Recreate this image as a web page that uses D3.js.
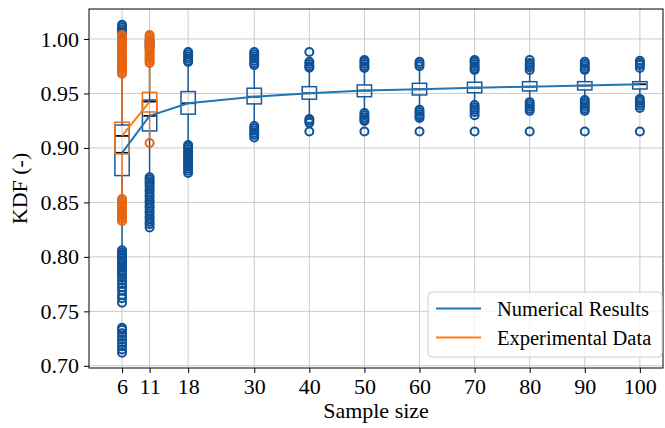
<!DOCTYPE html>
<html>
<head>
<meta charset="utf-8">
<script src="https://cdn.jsdelivr.net/npm/d3@7"></script>
<style>
  body { margin: 0; background: #fff; }
  svg text { font-family: "Liberation Serif", "Times New Roman", serif; fill: #000; }
</style>
</head>
<body>
<div id="chart"></div>
<script>
// sample sizes on the x axis
const sampleSizes = [6, 11, 18, 30, 40, 50, 60, 70, 80, 90, 100];
const yTicks = [0.70, 0.75, 0.80, 0.85, 0.90, 0.95, 1.00];

// Numerical results (box statistics per sample size)
const numMedian = [0.8955, 0.9294, 0.9410, 0.9470, 0.9502, 0.9526, 0.9538, 0.9553, 0.9562, 0.9572, 0.9584];
const numQ1 = [0.8746, 0.9156, 0.9310, 0.9404, 0.9447, 0.9470, 0.9486, 0.9507, 0.9523, 0.9532, 0.9541];
const numQ3 = [0.9210, 0.9440, 0.9517, 0.9548, 0.9562, 0.9578, 0.9593, 0.9603, 0.9608, 0.9608, 0.9608];
const numWhiskLo = [0.807, 0.875, 0.905, 0.922, 0.928, 0.933, 0.936, 0.941, 0.943, 0.945, 0.946];
const numWhiskHi = [0.990, 0.986, 0.977, 0.974, 0.972, 0.972, 0.974, 0.970, 0.970, 0.970, 0.972];
const numFliers = [
  [1.013, 1.011, 1.009, 1.007, 1.005, 1.003, 1.001, 0.999, 0.997, 0.995, 0.993,
   0.806, 0.804, 0.8025, 0.801, 0.799, 0.797, 0.7955, 0.794, 0.792, 0.790, 0.788, 0.786,
   0.7835, 0.781, 0.778, 0.775, 0.772, 0.769, 0.765, 0.762, 0.758,
   0.735, 0.733, 0.730, 0.727, 0.724, 0.721, 0.718, 0.715, 0.712],
  [0.998, 0.996, 0.994, 0.992,
   0.873, 0.871, 0.869, 0.867, 0.865, 0.862, 0.860, 0.857, 0.855, 0.852, 0.850,
   0.847, 0.845, 0.842, 0.840, 0.837, 0.835, 0.832, 0.830, 0.827],
  [0.988, 0.986, 0.984, 0.982, 0.980, 0.979,
   0.9027, 0.901, 0.899, 0.897, 0.895, 0.893, 0.891, 0.889, 0.887, 0.885, 0.883, 0.881, 0.879, 0.877],
  [0.988, 0.986, 0.984, 0.982, 0.980, 0.978, 0.976,
   0.920, 0.918, 0.916, 0.914, 0.912, 0.9095],
  [0.988, 0.979, 0.977, 0.975, 0.9735, 0.9266, 0.925, 0.923, 0.915],
  [0.9807, 0.979, 0.977, 0.975, 0.9734, 0.932, 0.930, 0.928, 0.926, 0.9248, 0.915],
  [0.979, 0.977, 0.975, 0.935, 0.933, 0.931, 0.929, 0.9275, 0.915],
  [0.9807, 0.979, 0.977, 0.975, 0.973, 0.9716, 0.9394, 0.937, 0.935, 0.933, 0.930, 0.915],
  [0.9807, 0.978, 0.976, 0.974, 0.9716, 0.942, 0.940, 0.938, 0.936, 0.934, 0.915],
  [0.979, 0.977, 0.975, 0.973, 0.9716, 0.944, 0.942, 0.940, 0.938, 0.936, 0.934, 0.915],
  [0.980, 0.978, 0.976, 0.9734, 0.945, 0.943, 0.941, 0.939, 0.9367, 0.915]
];

// Experimental data
const expSizes = [6, 11];
const expMedian = [0.911, 0.9425];
const expQ1 = [0.8945, 0.933];
const expQ3 = [0.9236, 0.951];
const expWhiskLo = [0.856, 0.908];
const expWhiskHi = [0.966, 0.976];
const expFliers = [
  [1.0037, 1.002, 1.000, 0.998, 0.996, 0.994, 0.992, 0.990, 0.988, 0.986, 0.984, 0.982,
   0.980, 0.978, 0.976, 0.974, 0.972, 0.970, 0.968,
   0.853, 0.851, 0.849, 0.847, 0.845, 0.843, 0.841, 0.839, 0.837, 0.835, 0.833],
  [1.0037, 1.002, 1.000, 0.998, 0.996, 0.994, 0.992, 0.990, 0.988, 0.986, 0.984,
   0.982, 0.980, 0.978, 0.9045]
];

const W = 665, H = 428;
const margin = { top: 9, right: 2, bottom: 60, left: 89 };
const width = W - margin.left - margin.right;
const height = H - margin.top - margin.bottom;
const boxW = 2.6; // in sample-size units
const fontSize = 22;
const legendFont = 20.5;
const serif = "'Liberation Serif', 'Times New Roman', serif";

const blueLine = "#1f77b4", blueBox = "#19599b", blueFlier = "#0f5196";
const orangeLine = "#ff7f0e", orangeBox = "#ee7018", orangeFlier = "#e8640e";

const svg = d3.select("#chart").append("svg")
  .attr("width", W).attr("height", H);

const x = d3.scaleLinear().domain([0, 104.2]).range([0, width]);
const y = d3.scaleLinear().domain([0.698, 1.0275]).range([height, 0]);

const g = svg.append("g")
  .attr("transform", "translate(" + margin.left + "," + margin.top + ")");

// grid
g.append("g").selectAll("line").data(sampleSizes).join("line")
  .attr("x1", d => x(d)).attr("x2", d => x(d))
  .attr("y1", 0).attr("y2", height)
  .attr("stroke", "#cbcbcb").attr("stroke-width", 1);
g.append("g").selectAll("line").data(yTicks).join("line")
  .attr("x1", 0).attr("x2", width)
  .attr("y1", d => y(d)).attr("y2", d => y(d))
  .attr("stroke", "#cbcbcb").attr("stroke-width", 1);

function drawBoxes(sizes, q1, med, q3, lo, hi, fliers, color, flierColor) {
  const rows = sizes.map((s, i) => ({ s, q1: q1[i], med: med[i], q3: q3[i], lo: lo[i], hi: hi[i], fl: fliers[i] }));
  const bg = g.append("g");
  // whiskers
  bg.selectAll(".wl").data(rows).join("line")
    .attr("x1", d => x(d.s)).attr("x2", d => x(d.s))
    .attr("y1", d => y(d.q1)).attr("y2", d => y(d.lo))
    .attr("stroke", color).attr("stroke-width", 1.5);
  bg.selectAll(".wh").data(rows).join("line")
    .attr("x1", d => x(d.s)).attr("x2", d => x(d.s))
    .attr("y1", d => y(d.q3)).attr("y2", d => y(d.hi))
    .attr("stroke", color).attr("stroke-width", 1.5);
  // boxes
  bg.selectAll("rect").data(rows).join("rect")
    .attr("x", d => x(d.s - boxW / 2))
    .attr("width", d => x(d.s + boxW / 2) - x(d.s - boxW / 2))
    .attr("y", d => y(d.q3))
    .attr("height", d => y(d.q1) - y(d.q3))
    .attr("fill", "none").attr("stroke", color).attr("stroke-width", 1.5);
  // medians
  bg.selectAll(".med").data(rows).join("line")
    .attr("x1", d => x(d.s - boxW / 2) + 1).attr("x2", d => x(d.s + boxW / 2) - 1)
    .attr("y1", d => y(d.med)).attr("y2", d => y(d.med))
    .attr("stroke", "#111").attr("stroke-width", 1.8);
  // fliers
  rows.forEach(r => {
    bg.append("g").selectAll("circle").data(r.fl).join("circle")
      .attr("cx", x(r.s)).attr("cy", d => y(d)).attr("r", 4)
      .attr("fill", "none").attr("stroke", flierColor).attr("stroke-width", 2);
  });
}

drawBoxes(sampleSizes, numQ1, numMedian, numQ3, numWhiskLo, numWhiskHi, numFliers, blueBox, blueFlier);
drawBoxes(expSizes, expQ1, expMedian, expQ3, expWhiskLo, expWhiskHi, expFliers, orangeBox, orangeFlier);

// median lines
const line = d3.line().x(d => x(d[0])).y(d => y(d[1]));
g.append("path")
  .datum(sampleSizes.map((s, i) => [s, numMedian[i]]))
  .attr("d", line).attr("fill", "none")
  .attr("stroke", blueLine).attr("stroke-width", 2);
g.append("path")
  .datum(expSizes.map((s, i) => [s, expMedian[i]]))
  .attr("d", line).attr("fill", "none")
  .attr("stroke", orangeLine).attr("stroke-width", 2);

// axes
const xAxis = g.append("g")
  .attr("transform", "translate(0," + height + ")")
  .call(d3.axisBottom(x).tickValues(sampleSizes).tickSize(5).tickPadding(5).tickFormat(d3.format("d")));
const yAxis = g.append("g")
  .call(d3.axisLeft(y).tickValues(yTicks).tickSize(5).tickPadding(5).tickFormat(d3.format(".2f")));
[xAxis, yAxis].forEach(a => {
  a.select(".domain").remove();
  a.selectAll("text").style("font-size", fontSize + "px").style("font-family", serif);
  a.selectAll("line").attr("stroke", "#000");
});

// frame
g.append("rect").attr("width", width).attr("height", height)
  .attr("fill", "none").attr("stroke", "#000").attr("stroke-width", 1);

// axis labels
svg.append("text")
  .attr("x", margin.left + width / 2).attr("y", 418)
  .attr("text-anchor", "middle")
  .style("font-size", fontSize + "px").style("font-family", serif)
  .text("Sample size");
svg.append("text")
  .attr("transform", "translate(27," + (margin.top + height / 2) + ") rotate(-90)")
  .attr("text-anchor", "middle")
  .style("font-size", fontSize + "px").style("font-family", serif)
  .text("KDF (-)");

// legend
const legend = svg.append("g").attr("transform", "translate(428,292)");
legend.append("rect").attr("width", 234).attr("height", 65).attr("rx", 4)
  .attr("fill", "#fff").attr("fill-opacity", 0.8)
  .attr("stroke", "#d0d0d0").attr("stroke-width", 1);
const items = [["Numerical Results", blueLine], ["Experimental Data", orangeLine]];
items.forEach((it, i) => {
  const yy = 16.5 + i * 29;
  legend.append("line").attr("x1", 8).attr("x2", 53).attr("y1", yy).attr("y2", yy)
    .attr("stroke", it[1]).attr("stroke-width", 2);
  legend.append("text").attr("x", 69).attr("y", yy + 7)
    .style("font-size", legendFont + "px").style("font-family", serif)
    .text(it[0]);
});
</script>
</body>
</html>
